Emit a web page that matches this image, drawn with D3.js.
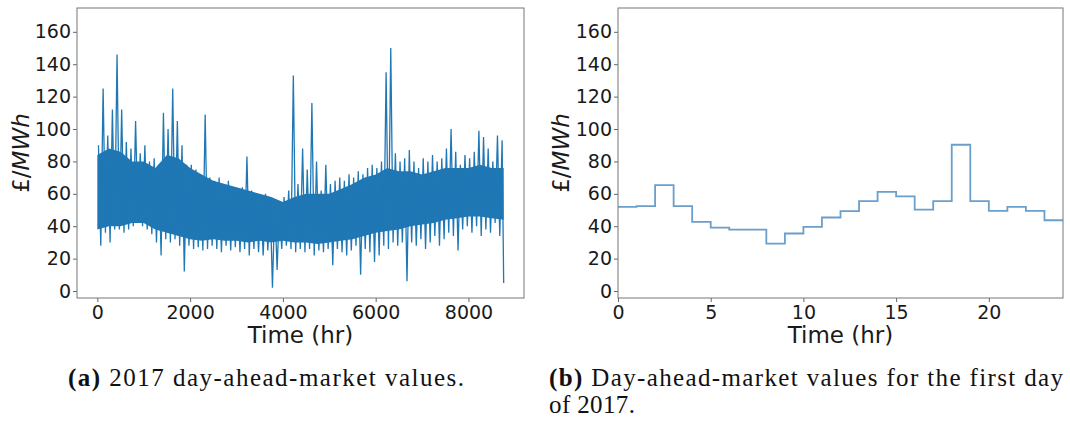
<!DOCTYPE html>
<html>
<head>
<title>Day-ahead market values 2017</title>
<script src="https://d3js.org/d3.v7.min.js"></script>
<style>
	body{ margin:0; background:#fff; }
	svg{ display:block; }
	.tick text{ font-family:"DejaVu Sans", sans-serif; font-size:19px; fill:#1a1a1a; }
	.tick line{ stroke:#666; }
	.axis-label{ font-family:"DejaVu Sans", sans-serif; font-size:23px; fill:#1a1a1a; }
	.caption{ font-family:"Liberation Serif", serif; font-size:25px; fill:#111; }
</style>
</head>
<body>
<script>
var blockHigh = [90,125,96,112,146,112,92,88,105,85,90,80,82,78,110,100,125,105,90,78,
	78,75,72,109,70,68,70,66,68,64,62,64,83,62,60,58,60,56,55,52,
	58,62,133,66,88,75,116,80,62,78,66,68,70,68,72,70,74,72,76,78,
	76,80,135,150,85,80,82,87,80,76,82,80,84,80,82,88,100,86,78,84,
	82,86,99,95,88,80,96,93]
var blockLow = [28,36,30,38,38,36,38,40,43,40,38,35,30,22,32,30,32,28,12,28,
	26,27,25,26,28,26,24,28,25,27,24,26,22,26,24,22,25,2,13,26,
	28,26,24,26,24,26,22,25,24,26,16,26,24,22,25,28,10,26,24,18,
	22,28,26,30,28,30,6,30,28,32,26,30,34,28,32,36,34,25,38,40,
	36,40,34,38,36,42,34,5]
// dense middle of the year series, every 250 h
var coreHours = [0,250,500,750,1000,1250,1500,1750,2000,2250,2500,2750,3000,3250,3500,3750,4000,4250,
	4500,4750,5000,5250,5500,5750,6000,6250,6500,6750,7000,7250,7500,7750,8000,8250,8500,8759]
var coreHigh = [84,88,86,80,80,76,84,82,76,72,68,66,64,62,60,58,55,58,
	60,60,60,63,66,70,72,76,74,74,72,74,76,76,76,78,76,76]
var coreLow = [38,40,40,42,42,38,36,34,32,31,32,31,31,30,31,30,31,30,
	30,29,30,31,32,34,36,37,38,40,41,42,44,45,46,46,45,44]
// first day of 2017
var dayHours = [0,1,2,3,4,5,6,7,8,9,10,11,12,13,14,15,16,17,18,19,20,21,22,23]
var dayPrice = [52.0,52.4,65.4,52.4,42.7,39.2,37.9,37.9,29.3,35.5,39.6,45.4,
	49.3,55.5,61.2,58.4,50.3,55.5,90.3,55.5,49.5,52.0,49.5,43.7]

var yearTicks = [0,2000,4000,6000,8000]
var dayTicks = [0,5,10,15,20]
var priceTicks = [0,20,40,60,80,100,120,140,160]

var plotTop = 8, plotBottom = 298
var svg = d3.select('body').append('svg')
	.attr('width', 1070)
	.attr('height', 421)

var yScale = d3.scaleLinear().domain([-4.3, 174.7]).range([plotBottom, plotTop])
var xYear = d3.scaleLinear().domain([-438, 9197]).range([77, 524])
var xDay = d3.scaleLinear().domain([0, 24]).range([618, 1063])

function drawAxes(xScale, ticks, labelX){
	var r = xScale.range()
	svg.append('g')
		.attr('transform', 'translate(0,' + plotBottom + ')')
		.call(d3.axisBottom(xScale).tickValues(ticks).tickFormat(d3.format('d'))
			.tickSize(4).tickPadding(4).tickSizeOuter(0))
		.call(g => g.select('.domain').remove())
	svg.append('g')
		.attr('transform', 'translate(' + r[0] + ',0)')
		.call(d3.axisLeft(yScale).tickValues(priceTicks).tickFormat(d3.format('d'))
			.tickSize(4).tickPadding(2).tickSizeOuter(0))
		.call(g => g.select('.domain').remove())
	svg.append('rect')
		.attr('x', r[0]).attr('y', plotTop)
		.attr('width', r[1] - r[0]).attr('height', plotBottom - plotTop)
		.attr('fill', 'none').attr('stroke', '#777').attr('stroke-width', 1)
	svg.append('text')
		.attr('class', 'axis-label')
		.attr('text-anchor', 'middle')
		.attr('x', (r[0] + r[1]) / 2)
		.attr('y', 343)
		.text('Time (hr)')
	var yl = svg.append('text')
		.attr('class', 'axis-label')
		.attr('text-anchor', 'middle')
		.attr('transform', 'translate(' + labelX + ',153) rotate(-90)')
	yl.append('tspan').text('£/')
	yl.append('tspan').attr('font-style', 'italic').text('MWh')
}

// left panel: whole year
var core = coreHours.map((h, i) => ({t: h, hi: coreHigh[i], lo: coreLow[i]}))
svg.append('path')
	.datum(core)
	.attr('fill', '#1f77b4')
	.attr('d', d3.area().curve(d3.curveLinear)
		.x(d => xYear(d.t)).y0(d => yScale(d.lo)).y1(d => yScale(d.hi)))

var zig = []
blockHigh.forEach(function(v, i){
	zig.push({t: i * 100 + 25, v: v})
	zig.push({t: Math.min(i * 100 + 75, 8759), v: blockLow[i]})
})
svg.append('path')
	.datum(zig)
	.attr('fill', 'none')
	.attr('stroke', '#1f77b4')
	.attr('stroke-width', 1.3)
	.attr('d', d3.line().x(d => xYear(d.t)).y(d => yScale(d.v)))

drawAxes(xYear, yearTicks, 29)

// right panel: first day, stepped
var day = dayHours.map((h, i) => ({t: h, v: dayPrice[i]}))
day.push({t: 24, v: dayPrice[dayPrice.length - 1]})
svg.append('path')
	.datum(day)
	.attr('fill', 'none')
	.attr('stroke', '#6a9fcb')
	.attr('stroke-width', 1.8)
	.attr('d', d3.line().curve(d3.curveStepAfter).x(d => xDay(d.t)).y(d => yScale(d.v)))

drawAxes(xDay, dayTicks, 569)

// captions
var capA = svg.append('text').attr('class', 'caption')
	.attr('x', 68).attr('y', 386).attr('textLength', 396)
capA.append('tspan').attr('font-weight', 'bold').text('(a)')
capA.append('tspan').text(' 2017 day-ahead-market values.')

var capB = svg.append('text').attr('class', 'caption')
	.attr('x', 549).attr('y', 386).attr('textLength', 514)
capB.append('tspan').attr('font-weight', 'bold').text('(b)')
capB.append('tspan').text(' Day-ahead-market values for the first day')
svg.append('text').attr('class', 'caption')
	.attr('x', 549).attr('y', 413).attr('textLength', 86)
	.text('of 2017.')
</script>
</body>
</html>
